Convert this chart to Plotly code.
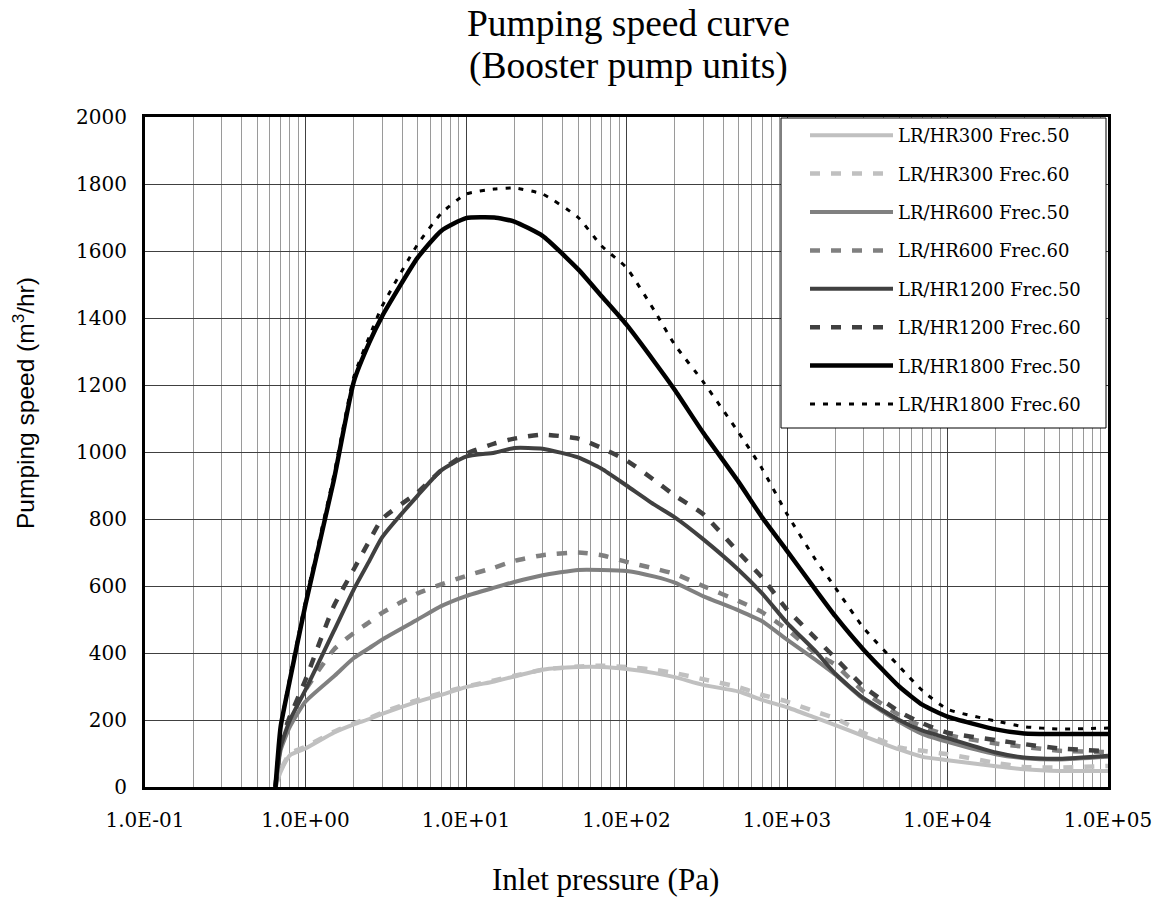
import plotly.graph_objects as go

# ---- data ----
pressure = [0.65, 0.7, 0.8, 1, 1.5, 2, 2.5, 3, 5, 7, 10, 15, 20, 30, 50, 70, 100, 150, 200,
            300, 500, 700, 1000, 1500, 2000, 3000, 5000, 7000, 10000, 20000, 30000, 50000, 100000]

lr300_50 = [0, 45, 95, 115, 162, 187, 203, 218, 255, 275, 298, 315, 330, 350, 358, 358, 352, 340, 328,
            305, 285, 260, 238, 207, 185, 152, 112, 90, 80, 62, 53, 48, 48]
lr300_60 = [0, 50, 100, 120, 165, 190, 206, 222, 260, 280, 300, 318, 332, 350, 360, 362, 358, 350, 340,
            322, 298, 275, 255, 225, 205, 162, 118, 108, 98, 72, 60, 58, 63]
lr600_50 = [0, 110, 180, 255, 330, 385, 415, 440, 500, 540, 570, 595, 612, 632, 648, 648, 645, 628, 610,
            570, 527, 495, 440, 380, 335, 262, 195, 158, 135, 98, 86, 82, 90]
lr600_60 = [0, 130, 210, 290, 410, 460, 492, 520, 578, 605, 630, 655, 675, 692, 700, 692, 672, 652, 636,
            600, 555, 522, 470, 400, 365, 285, 215, 180, 155, 130, 120, 108, 104]
lr1200_50 = [0, 120, 200, 290, 465, 590, 675, 745, 870, 945, 986, 998, 1012, 1010, 984, 950, 900, 842, 805,
             740, 648, 578, 490, 406, 338, 265, 200, 168, 146, 103, 88, 84, 93]
lr1200_60 = [0, 130, 210, 320, 540, 650, 735, 800, 880, 945, 995, 1025, 1040, 1052, 1040, 1012, 975, 915, 870,
             815, 700, 625, 530, 445, 385, 300, 225, 190, 162, 140, 128, 115, 107]
lr1800_50 = [0, 180, 320, 545, 915, 1210, 1327, 1405, 1580, 1660, 1698, 1700, 1688, 1645, 1545, 1465, 1380, 1268, 1185,
             1058, 910, 805, 705, 590, 510, 410, 300, 245, 210, 172, 160, 158, 158]
lr1800_60 = [0, 180, 330, 555, 930, 1225, 1345, 1435, 1620, 1712, 1770, 1785, 1788, 1770, 1700, 1615, 1550, 1420, 1320,
             1210, 1058, 950, 815, 680, 595, 475, 360, 287, 232, 197, 180, 173, 176]

series_names = ["LR/HR300 Frec.50", "LR/HR300 Frec.60", "LR/HR600 Frec.50", "LR/HR600 Frec.60",
                "LR/HR1200 Frec.50", "LR/HR1200 Frec.60", "LR/HR1800 Frec.50", "LR/HR1800 Frec.60"]
series_values = [lr300_50, lr300_60, lr600_50, lr600_60, lr1200_50, lr1200_60, lr1800_50, lr1800_60]

x_tickvals = [0.1, 1, 10, 100, 1000, 10000, 100000]
x_ticktext = ["1.0E-01", "1.0E+00", "1.0E+01", "1.0E+02", "1.0E+03", "1.0E+04", "1.0E+05"]

title_lines = ["Pumping speed curve", "(Booster pump units)"]

# ---- styles ----
styles = [
    dict(color="#c0c0c0", width=4, dash="solid"),
    dict(color="#c0c0c0", width=4.5, dash="10px,11px"),
    dict(color="#808080", width=4, dash="solid"),
    dict(color="#808080", width=4.5, dash="10px,11px"),
    dict(color="#404040", width=4, dash="solid"),
    dict(color="#404040", width=4.5, dash="10px,11px"),
    dict(color="#000000", width=4.5, dash="solid"),
    dict(color="#000000", width=3, dash="5px,8px"),
]

minor_vals = [m * 10 ** e for e in range(-1, 5) for m in range(2, 10)]

fig = go.Figure()
for name, vals, st in zip(series_names, series_values, styles):
    fig.add_trace(go.Scatter(
        x=pressure, y=vals, mode="lines", name=name, legendgroup=name,
        line=dict(color=st["color"], width=st["width"], dash=st["dash"], shape="spline", smoothing=0.5),
    ))

PL, PT, PW, PH = 145, 117, 963, 670


def px_x(x):
    return (x - PL) / PW


def px_y(y):
    return (PT + PH - y) / PH


title_font = dict(family="Liberation Serif", size=37.5, color="black")

fig.update_layout(
    width=1163, height=904,
    margin=dict(l=145, r=55, t=117, b=117),
    paper_bgcolor="white", plot_bgcolor="white",
    showlegend=True,
    legend=dict(x=px_x(805), y=1, xanchor="left", yanchor="top", bgcolor="rgba(0,0,0,0)",
                borderwidth=0, itemwidth=83, tracegroupgap=12,
                font=dict(family="DejaVu Serif", size=18, color="black")),
    xaxis=dict(type="log", range=[-1, 5], tickvals=x_tickvals, ticktext=x_ticktext,
               showgrid=True, gridcolor="#404040", gridwidth=1,
               showline=True, linecolor="black", linewidth=3, mirror=True,
               ticks="", ticklabelstandoff=13,
               tickfont=dict(family="DejaVu Serif", size=20, color="black"),
               minor=dict(tickmode="array", tickvals=minor_vals, showgrid=True,
                          gridcolor="#9a9a9a", gridwidth=1, ticks="")),
    yaxis=dict(range=[0, 2000], dtick=200, showgrid=True, gridcolor="#404040", gridwidth=1,
               showline=True, linecolor="black", linewidth=3, mirror=True, zeroline=False,
               ticks="", ticklabelstandoff=11,
               tickfont=dict(family="DejaVu Serif", size=20, color="black")),
    shapes=[
        dict(type="rect", xref="paper", yref="paper", x0=px_x(781), x1=px_x(1106),
             y0=px_y(428), y1=px_y(118), fillcolor="white", line=dict(color="black", width=1),
             layer="above"),
    ],
    annotations=[
        dict(text=title_lines[0], xref="paper", yref="paper", x=px_x(628), y=px_y(23),
             showarrow=False, xanchor="center", yanchor="middle", font=title_font),
        dict(text=title_lines[1], xref="paper", yref="paper", x=px_x(628), y=px_y(66),
             showarrow=False, xanchor="center", yanchor="middle", font=title_font),
        dict(text="Pumping speed (m<sup>3</sup>/hr)", xref="paper", yref="paper",
             x=px_x(23), y=px_y(403), textangle=-90, showarrow=False,
             xanchor="center", yanchor="middle",
             font=dict(family="Liberation Sans", size=24.5, color="black")),
        dict(text="Inlet pressure (Pa)", xref="paper", yref="paper",
             x=px_x(605), y=px_y(879), showarrow=False,
             xanchor="center", yanchor="middle",
             font=dict(family="Liberation Serif", size=31, color="black")),
    ],
)

fig.write_html("out.html", config={"displayModeBar": False},
               post_script="document.body.style.margin='0px';")
